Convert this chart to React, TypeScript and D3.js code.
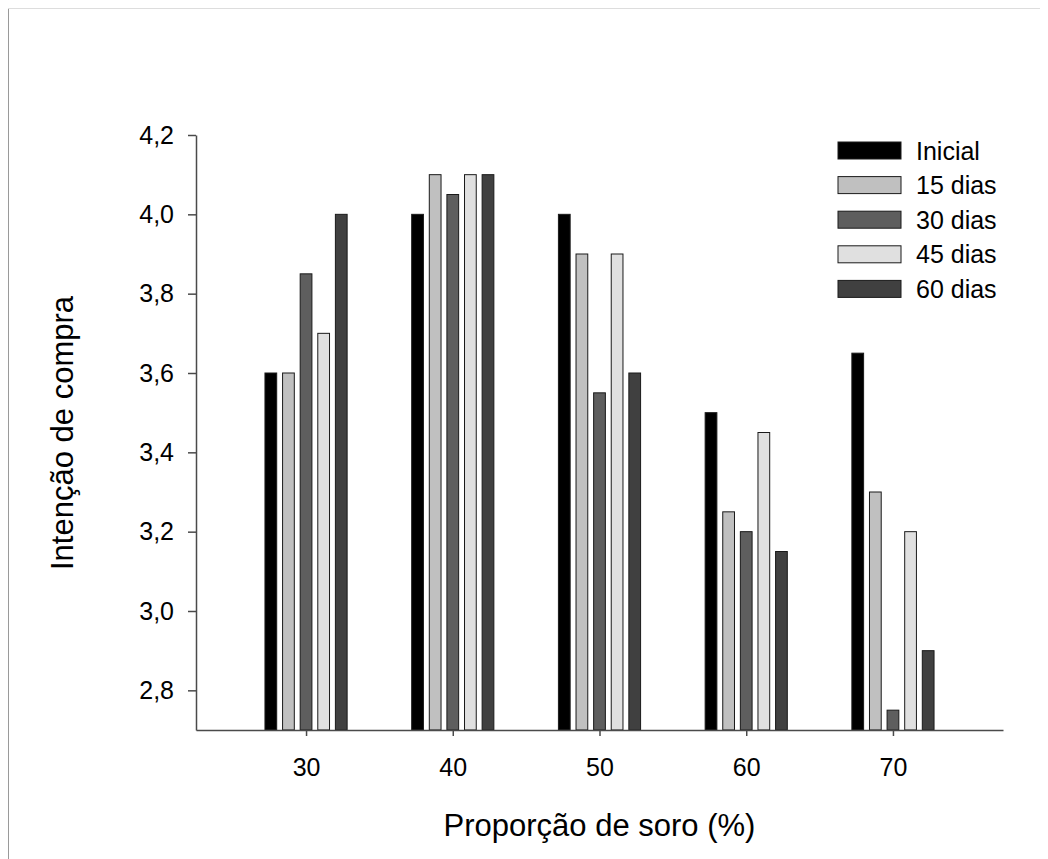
import React, { useEffect, useRef } from 'react';
import * as d3 from 'd3';

const proportions = [30, 40, 50, 60, 70];
const seriesNames = ['Inicial', '15 dias', '30 dias', '45 dias', '60 dias'];
const seriesColors = ['#000000', '#c0c0c0', '#5e5e5e', '#e0e0e0', '#404040'];

const inicial = [3.6, 4.0, 4.0, 3.5, 3.65];
const dias15 = [3.6, 4.1, 3.9, 3.25, 3.3];
const dias30 = [3.85, 4.05, 3.55, 3.2, 2.75];
const dias45 = [3.7, 4.1, 3.9, 3.45, 3.2];
const dias60 = [4.0, 4.1, 3.6, 3.15, 2.9];

const yTicks = [2.8, 3.0, 3.2, 3.4, 3.6, 3.8, 4.0, 4.2];

const width = 1040;
const height = 851;
const font = '"Liberation Sans", Arial, Helvetica, sans-serif';

const App = () => {
  const svgRef = useRef<SVGSVGElement>(null);

  useEffect(() => {
    const svg = d3.select(svgRef.current);
    svg.selectAll('*').remove();

    const margin = { top: 127, right: 45, bottom: 129, left: 188 };
    const values = [inicial, dias15, dias30, dias45, dias60];

    const x = d3
      .scaleLinear()
      .domain([22.5, 77.5])
      .range([margin.left, width - margin.right]);

    const y = d3
      .scaleLinear()
      .domain([2.7, 4.2])
      .range([height - margin.bottom, margin.top]);

    // thin page frame (left and top only)
    svg.append('line')
      .attr('x1', 0.5).attr('x2', 0.5).attr('y1', 0).attr('y2', height)
      .attr('stroke', '#9a9a9a');
    svg.append('line')
      .attr('x1', 0).attr('x2', width).attr('y1', 0.5).attr('y2', 0.5)
      .attr('stroke', '#dddddd');

    const step = 1.2;
    const barW = 0.8;

    values.forEach((vals, i) => {
      svg.append('g')
        .selectAll('rect')
        .data(vals)
        .join('rect')
        .attr('x', (d, j) => x(proportions[j] + (i - 2) * step - barW / 2))
        .attr('width', x(barW) - x(0))
        .attr('y', d => y(d))
        .attr('height', d => y(2.7) - y(d))
        .attr('fill', seriesColors[i])
        .attr('stroke', '#1a1a1a')
        .attr('stroke-width', 1);
    });

    const xAxis = d3.axisBottom(x)
      .tickValues(proportions)
      .tickSize(6)
      .tickSizeOuter(0)
      .tickPadding(22)
      .tickFormat(d => String(d));
    svg.append('g')
      .attr('transform', `translate(0, ${height - margin.bottom})`)
      .call(xAxis)
      .call(g => g.select('.domain').attr('stroke', '#4a4a4a').attr('stroke-width', 1.5))
      .call(g => g.selectAll('.tick line').attr('stroke', '#4a4a4a').attr('stroke-width', 1.5))
      .call(g => g.selectAll('.tick text')
        .attr('font-family', font)
        .attr('font-size', 25)
        .attr('fill', '#000'));

    const yAxis = d3.axisLeft(y)
      .tickValues(yTicks)
      .tickSize(8)
      .tickSizeOuter(0)
      .tickPadding(14)
      .tickFormat(d => d3.format('.1f')(d as number).replace('.', ','));
    svg.append('g')
      .attr('transform', `translate(${margin.left}, 0)`)
      .call(yAxis)
      .call(g => g.select('.domain').attr('stroke', '#4a4a4a').attr('stroke-width', 1.5))
      .call(g => g.selectAll('.tick line').attr('stroke', '#4a4a4a').attr('stroke-width', 1.5))
      .call(g => g.selectAll('.tick text')
        .attr('font-family', font)
        .attr('font-size', 25)
        .attr('fill', '#000'));

    svg.append('text')
      .attr('x', (margin.left + width - margin.right) / 2)
      .attr('y', 828)
      .attr('text-anchor', 'middle')
      .attr('font-family', font)
      .attr('font-size', 31)
      .text('Proporção de soro (%)');

    svg.append('text')
      .attr('transform', `translate(65, 425) rotate(-90)`)
      .attr('text-anchor', 'middle')
      .attr('font-family', font)
      .attr('font-size', 31)
      .text('Intenção de compra');

    const legend = svg.append('g').attr('transform', 'translate(830, 134)');
    const rows = legend.selectAll('g')
      .data(seriesNames)
      .join('g')
      .attr('transform', (d, i) => `translate(0, ${i * 34.6})`);
    rows.append('rect')
      .attr('width', 63)
      .attr('height', 17)
      .attr('fill', (d, i) => seriesColors[i])
      .attr('stroke', '#1a1a1a')
      .attr('stroke-width', 1);
    rows.append('text')
      .attr('x', 78)
      .attr('y', 17.5)
      .attr('font-family', font)
      .attr('font-size', 25)
      .text(d => d);
  }, []);

  return (
    <svg ref={svgRef} width={width} height={height} style={{ display: 'block' }}></svg>
  );
};

export default App;
